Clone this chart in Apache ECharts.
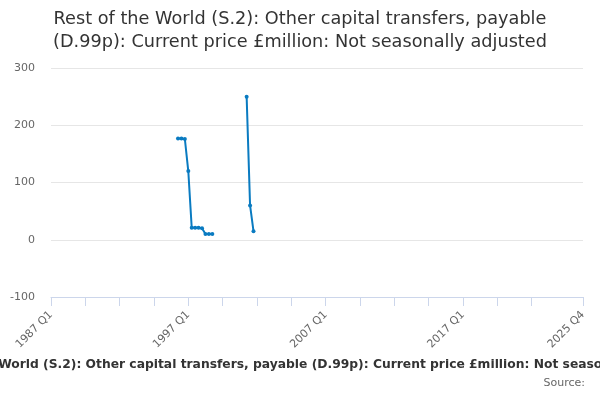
<!DOCTYPE html>
<html>
<head>
<meta charset="utf-8">
<script src="https://cdn.jsdelivr.net/npm/echarts@6/dist/echarts.min.js"></script>
<style>html,body{margin:0;padding:0;background:#fff}#c{width:600px;height:400px}</style>
</head>
<body>
<div id="c"></div>
<script>
var startYear = 1987, endYear = 2025;
var quarters = ['Q1','Q2','Q3','Q4'];
var categories = [];
for (var y = startYear; y <= endYear; y++) for (var q = 0; q < 4; q++) categories.push(y + ' ' + quarters[q]);

var pointLabels = ['1996 Q2','1996 Q3','1996 Q4','1997 Q1','1997 Q2','1997 Q3','1997 Q4','1998 Q1','1998 Q2','1998 Q3','1998 Q4','2001 Q2','2001 Q3','2001 Q4'];
var pointValues = [177, 177, 176, 120, 21, 21, 21, 20, 10, 10, 10, 250, 60, 15];
var yTicks = [-100, 0, 100, 200, 300];
var labelIdx = [0, 40, 80, 120, 155];

var seriesData = categories.map(function(){ return null; });
pointLabels.forEach(function(l, i){ seriesData[categories.indexOf(l)] = pointValues[i]; });

var font = 'DejaVu Sans';
var chart = echarts.init(document.getElementById('c'));
chart.setOption({
  animation: false,
  textStyle: {fontFamily: font},
  title: [{
    text: 'Rest of the World (S.2): Other capital transfers, payable\n(D.99p): Current price £million: Not seasonally adjusted',
    left: 'center', top: 3,
    textStyle: {fontFamily: font, fontSize: 17.7, fontWeight: 'normal', color: '#333', lineHeight: 23}
  }, {
    text: 'Source:',
    right: 10, top: 373,
    textStyle: {fontFamily: font, fontSize: 11, fontWeight: 'normal', color: '#666'}
  }],
  graphic: [{
    type: 'text', x: 309, y: 359,
    style: {
      text: 'Rest of the World (S.2): Other capital transfers, payable (D.99p): Current price £million: Not seasonally adjusted',
      textAlign: 'center', fontFamily: font, fontSize: 12.3, fontWeight: 'bold', fill: '#333'
    }
  }],
  grid: {left: 51, right: 17, top: 68, bottom: 103},
  xAxis: {
    type: 'category',
    data: categories,
    boundaryGap: false,
    axisLine: {onZero: false, lineStyle: {color: '#ccd6eb'}},
    axisTick: {length: 9, lineStyle: {color: '#ccd6eb'},
      interval: function(i){ return (i % 10 === 0 && i <= 140) || i === 155; }},
    axisLabel: {rotate: 45, color: '#666', fontSize: 11, margin: 16,
      interval: function(i){ return labelIdx.indexOf(i) >= 0; }},
    splitLine: {show: false}
  },
  yAxis: {
    type: 'value', min: yTicks[0], max: yTicks[yTicks.length-1], interval: 100,
    axisLine: {show: false}, axisTick: {show: false},
    axisLabel: {color: '#666', fontSize: 11, margin: 16},
    splitLine: {lineStyle: {color: '#e6e6e6'}}
  },
  series: [{
    type: 'line',
    data: seriesData,
    connectNulls: false,
    symbol: 'circle', symbolSize: 4, showSymbol: true, showAllSymbol: true,
    lineStyle: {color: '#0a7bc1', width: 2},
    itemStyle: {color: '#0a7bc1'}
  }]
});
</script>
</body>
</html>
